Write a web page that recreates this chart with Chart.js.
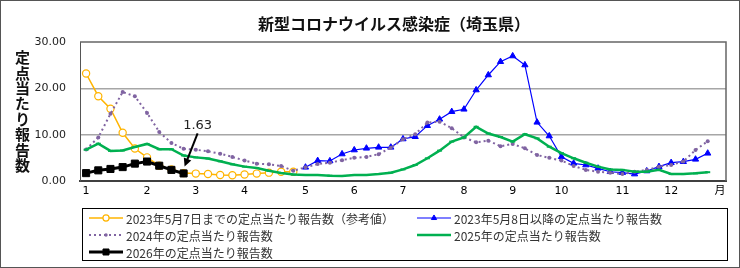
<!DOCTYPE html>
<html lang="ja">
<head>
<meta charset="utf-8">
<script src="https://cdn.jsdelivr.net/npm/chart.js@4.4.1/dist/chart.umd.min.js"></script>
<style>
  html, body { margin: 0; padding: 0; background: #fff; }
  #wrap { position: relative; width: 740px; height: 268px; }
  #chart { position: absolute; left: 0; top: 0; }
  .title { position: absolute; left: 194px; top: 13px; width: 400px; text-align: center;
           font: bold 16px/20px 'Noto Sans CJK JP', sans-serif; color: #111; }
  .ytitle { position: absolute; left: 14px; top: 50px; width: 16px; writing-mode: vertical-rl;
            font: bold 15px/16px 'Noto Sans CJK JP', sans-serif; letter-spacing: 0.4px; color: #111; }
</style>
</head>
<body>
<div id="wrap">
  <canvas id="chart" width="740" height="268"></canvas>
  <div class="title">新型コロナウイルス感染症（埼玉県）</div>
  <div class="ytitle">定点当たり報告数</div>
</div>
<script>
// weekly slots on the x axis, month labels sit on the first week of each month
const weekCount = 53;
const monthTickIdx  = [0, 5, 9, 13, 18, 22, 26, 31, 35, 39, 44, 48, 52];
const monthTickText = ['1', '2', '3', '4', '5', '6', '7', '8', '9', '10', '11', '12', '月'];

const seriesNames = [
  '2023年5月7日までの定点当たり報告数（参考値）',
  '2023年5月8日以降の定点当たり報告数',
  '2024年の定点当たり報告数',
  '2025年の定点当たり報告数',
  '2026年の定点当たり報告数'
];

// 2023, weeks 1-18 (reference values)
const y2023a = [23.2, 18.3, 15.6, 10.4, 7.0, 5.1, 3.3, 2.5, 1.7, 1.6, 1.5, 1.3, 1.25, 1.4, 1.6, 1.8, 2.0, 2.0];
// 2023 from May 8 (week 19 onward)
const y2023bStart = 18;
const y2023b = [2.96, 4.38, 4.32, 5.83, 6.69, 7.06, 7.27, 7.27, 9.07, 9.56,
                11.94, 13.32, 14.96, 15.48, 19.64, 22.88, 25.75, 26.98, 25.04, 12.67,
                9.71, 5.24, 3.82, 3.45, 2.74, 2.0, 1.8, 1.5, 2.16, 3.09,
                3.95, 4.17, 4.68, 5.98];
const y2024 = [6.8, 9.4, 14.5, 19.2, 18.3, 14.7, 10.6, 8.2, 6.95, 6.75,
               6.4, 5.9, 5.2, 4.4, 3.75, 3.6, 3.25, 2.2, 2.96, 3.67,
               3.95, 4.5, 5.0, 5.2, 5.8, 7.2, 9.0, 10.1, 12.6, 12.8,
               11.4, 9.4, 8.35, 8.7, 7.5, 8.0, 7.05, 5.6, 5.0, 4.4,
               3.25, 2.4, 2.0, 1.8, 1.5, 2.0, 2.4, 3.1, 3.45, 4.2,
               6.7, 8.6];
const y2025 = [6.75, 8.05, 6.5, 6.6, 7.35, 8.0, 6.85, 6.85, 5.5, 5.1,
               4.85, 4.25, 3.6, 3.1, 2.8, 2.2, 1.73, 1.4, 1.3, 1.3,
               1.15, 1.08, 1.3, 1.3, 1.5, 1.8, 2.5, 3.45, 4.9, 6.55,
               8.5, 9.4, 11.7, 10.25, 9.5, 8.5, 10.1, 9.2, 7.4, 6.0,
               4.9, 3.95, 3.1, 2.5, 2.4, 2.0, 2.0, 2.4, 1.5, 1.5,
               1.65, 1.9];
const y2026 = [1.7, 2.3, 2.6, 3.0, 3.75, 4.2, 3.3, 2.4, 1.63];

const yTickStep = 10;
const yMax = 30;

const weekLabels = Array.from({ length: weekCount }, (_, i) => {
  const k = monthTickIdx.indexOf(i);
  return k >= 0 ? monthTickText[k] : '';
});

function pad(values, start) {
  const out = new Array(weekCount).fill(null);
  values.forEach((v, i) => { out[start + i] = v; });
  return out;
}

Chart.defaults.font.family = "'DejaVu Sans', 'Noto Sans CJK JP', sans-serif";

function drawMarker(ctx, ds, x, y, scale) {
  const r = ds.pointRadius * scale;
  ctx.save();
  ctx.fillStyle = ds.pointBackgroundColor;
  ctx.strokeStyle = ds.pointBorderColor;
  ctx.lineWidth = ds.pointBorderWidth;
  ctx.beginPath();
  if (ds.pointStyle === 'circle') {
    ctx.arc(x, y, r, 0, Math.PI * 2);
    ctx.fill();
    if (ds.pointBorderWidth) ctx.stroke();
  } else if (ds.pointStyle === 'triangle') {
    ctx.moveTo(x, y - r);
    ctx.lineTo(x + r * 0.866, y + r * 0.5);
    ctx.lineTo(x - r * 0.866, y + r * 0.5);
    ctx.closePath(); ctx.fill(); ctx.stroke();
  } else if (ds.pointStyle === 'rect') {
    const s = r * Math.SQRT1_2;
    ctx.rect(x - s, y - s, 2 * s, 2 * s);
    ctx.fill(); ctx.stroke();
  } else if (ds.pointStyle === 'line') {
    ctx.moveTo(x - r, y); ctx.lineTo(x + r, y); ctx.stroke();
  }
  ctx.restore();
}

// boxed two-column legend under the plot
const legendBox = {
  id: 'legendBox',
  afterDraw(chart) {
    const ctx = chart.ctx;
    ctx.save();
    ctx.strokeStyle = '#000';
    ctx.lineWidth = 1;
    ctx.strokeRect(82.5, 208.5, 645, 52);
    chart.data.datasets.forEach((ds, i) => {
      const x = i % 2 ? 417 : 89;
      const y = [218, 235, 252][Math.floor(i / 2)];
      ctx.beginPath();
      ctx.setLineDash(ds.borderDash || []);
      ctx.strokeStyle = ds.borderColor;
      ctx.lineWidth = ds.borderWidth;
      ctx.moveTo(x, y); ctx.lineTo(x + 34, y);
      ctx.stroke();
      ctx.setLineDash([]);
      drawMarker(ctx, ds, x + 17, y, 0.85);
      ctx.fillStyle = '#333';
      ctx.font = "12px 'Noto Sans CJK JP', sans-serif";
      ctx.textBaseline = 'middle';
      ctx.textAlign = 'left';
      ctx.fillText(ds.label, x + 37, y + 1);
    });
    ctx.restore();
  }
};

// plot frame, outer border and the call-out on the latest 2026 value
const frameAndNote = {
  id: 'frameAndNote',
  afterDraw(chart) {
    const { ctx, chartArea: a } = chart;
    ctx.save();
    ctx.strokeStyle = '#666';
    ctx.lineWidth = 1.5;
    ctx.beginPath();
    ctx.moveTo(a.left, a.top); ctx.lineTo(a.right, a.top); ctx.lineTo(a.right, a.bottom);
    ctx.stroke();
    ctx.strokeStyle = '#555';
    ctx.lineWidth = 1;
    ctx.strokeRect(0.5, 0.5, 739, 267);

    const meta = chart.getDatasetMeta(4);
    const pt = meta.data[y2026.length - 1];
    const sx = pt.x + 14, sy = pt.y - 40, tx = pt.x + 1, ty = pt.y - 7;
    ctx.strokeStyle = '#000';
    ctx.fillStyle = '#000';
    ctx.lineWidth = 2;
    const ang = Math.atan2(ty - sy, tx - sx);
    ctx.beginPath();
    ctx.moveTo(sx, sy);
    ctx.lineTo(tx - 6 * Math.cos(ang), ty - 6 * Math.sin(ang));
    ctx.stroke();
    ctx.beginPath();
    ctx.moveTo(tx, ty);
    ctx.lineTo(tx - 8 * Math.cos(ang) + 4 * Math.sin(ang), ty - 8 * Math.sin(ang) - 4 * Math.cos(ang));
    ctx.lineTo(tx - 8 * Math.cos(ang) - 4 * Math.sin(ang), ty - 8 * Math.sin(ang) + 4 * Math.cos(ang));
    ctx.closePath();
    ctx.fill();
    ctx.fillStyle = '#222';
    ctx.font = "13px 'DejaVu Sans', sans-serif";
    ctx.textAlign = 'center';
    ctx.textBaseline = 'middle';
    ctx.fillText(y2026[y2026.length - 1].toFixed(2), pt.x + 14, pt.y - 48);
    ctx.restore();
  }
};

new Chart(document.getElementById('chart'), {
  type: 'line',
  data: {
    labels: weekLabels,
    datasets: [
      { label: seriesNames[0], data: pad(y2023a, 0), order: 4,
        borderColor: '#FFB400', borderWidth: 1.5,
        pointStyle: 'circle', pointRadius: 3.6, pointBackgroundColor: '#fff',
        pointBorderColor: '#FFB400', pointBorderWidth: 1.2 },
      { label: seriesNames[1], data: pad(y2023b, y2023bStart), order: 3,
        borderColor: '#0000FF', borderWidth: 1.2,
        pointStyle: 'triangle', pointRadius: 3.6, pointBackgroundColor: '#0000FF',
        pointBorderColor: '#0000FF', pointBorderWidth: 1 },
      { label: seriesNames[2], data: pad(y2024, 0), order: 2,
        borderColor: '#8064A2', borderWidth: 2, borderDash: [2, 3],
        pointStyle: 'circle', pointRadius: 2, pointBackgroundColor: '#8064A2',
        pointBorderColor: '#8064A2', pointBorderWidth: 0 },
      { label: seriesNames[3], data: pad(y2025, 0), order: 1,
        borderColor: '#00B050', borderWidth: 2.5,
        pointStyle: 'line', pointRadius: 2.5, pointBackgroundColor: '#00B050',
        pointBorderColor: '#00B050', pointBorderWidth: 2 },
      { label: seriesNames[4], data: pad(y2026, 0), order: 0,
        borderColor: '#000', borderWidth: 3,
        pointStyle: 'rect', pointRadius: 5, pointBackgroundColor: '#000',
        pointBorderColor: '#000', pointBorderWidth: 1 }
    ]
  },
  options: {
    responsive: false,
    animation: false,
    spanGaps: false,
    layout: { padding: { top: 42, right: 14, left: 0, bottom: 0 } },
    plugins: { legend: { display: false }, tooltip: { enabled: false } },
    scales: {
      x: {
        offset: true,
        grid: { display: false, drawTicks: false },
        border: { display: true, color: '#404040', width: 2 },
        ticks: { autoSkip: false, maxRotation: 0, padding: 4, color: '#000', font: { size: 11 } },
        afterFit(s) { s.height = 87; }
      },
      y: {
        min: 0, max: yMax,
        grid: {
          drawTicks: false, lineWidth: 1.5,
          color: c => (c.tick.value === 0 || c.tick.value === yMax) ? 'rgba(0,0,0,0)' : '#a6a6a6'
        },
        border: { display: true, color: '#555', width: 1 },
        ticks: { stepSize: yTickStep, padding: 14, color: '#222', font: { size: 11 },
                 callback: v => v.toFixed(2) },
        afterFit(s) { s.width = 80; }
      }
    }
  },
  plugins: [legendBox, frameAndNote]
});
</script>
</body>
</html>
